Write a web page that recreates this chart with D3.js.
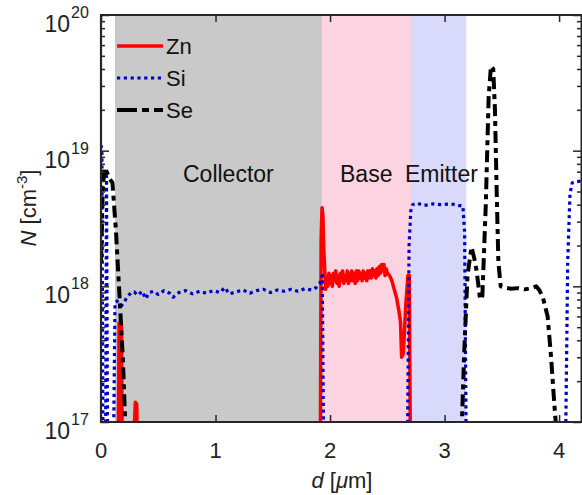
<!DOCTYPE html>
<html>
<head>
<meta charset="utf-8">
<script src="https://cdn.jsdelivr.net/npm/d3@7"></script>
<style>
  html, body { margin: 0; padding: 0; background: #fff; }
  svg { display: block; font-family: Arial, "Liberation Sans", Helvetica, sans-serif; }
</style>
</head>
<body>
<svg id="chart" width="582" height="495"></svg>
<script>
// Layer regions of the structure (depth in µm)
const regionNames = ["Collector", "Base", "Emitter"];
const regionStart = [0.122, 1.93, 2.707];
const regionEnd = [1.93, 2.707, 3.19];

// Zn profile (depth µm, concentration cm^-3)
const znDepth = [0.15, 0.158, 0.163, 0.178, 0.186, 0.28, 0.295, 0.3, 0.312, 0.32,
  1.915, 1.922, 1.93, 1.938, 1.946, 1.955, 1.962, 1.97, 1.98, 1.99, 2.0, 2.01, 2.02, 2.03,
  2.04, 2.05, 2.06, 2.07, 2.08, 2.09, 2.1, 2.11, 2.12, 2.13, 2.14, 2.15, 2.16, 2.17, 2.18,
  2.19, 2.2, 2.21, 2.22, 2.23, 2.24, 2.25, 2.26, 2.27, 2.28, 2.29, 2.3, 2.31, 2.32, 2.33,
  2.34, 2.35, 2.36, 2.37, 2.38, 2.39, 2.4, 2.41, 2.42, 2.43, 2.44, 2.45, 2.46, 2.47, 2.48,
  2.49, 2.5, 2.52, 2.54, 2.56, 2.58, 2.6, 2.615, 2.625, 2.64, 2.66, 2.68, 2.692, 2.702];
const znConc = [5e16, 5.4e17, 5.4e17, 5.2e17, 5e16, 5e16, 1.1e17, 1.4e17, 1.35e17, 5e16,
  5e16, 2.2e18, 3.8e18, 3.3e18, 1.8e18, 1.25e18, 9.5e17, 1.15e18, 1.0e18, 1.25e18, 1.05e18,
  1.2e18, 1.0e18, 1.25e18, 1.1e18, 1.3e18, 1.05e18, 1.2e18, 1.0e18, 1.25e18, 1.1e18,
  1.3e18, 1.05e18, 1.2e18, 1.1e18, 1.3e18, 1.05e18, 1.25e18, 1.1e18, 1.3e18, 1.1e18,
  1.25e18, 1.05e18, 1.3e18, 1.1e18, 1.3e18, 1.15e18, 1.25e18, 1.1e18, 1.3e18, 1.15e18,
  1.25e18, 1.1e18, 1.3e18, 1.15e18, 1.3e18, 1.15e18, 1.35e18, 1.2e18, 1.3e18, 1.15e18,
  1.35e18, 1.2e18, 1.4e18, 1.25e18, 1.45e18, 1.3e18, 1.45e18, 1.2e18, 1.35e18, 1.25e18,
  1.2e18, 1.1e18, 9.5e17, 8.3e17, 6.7e17, 5.5e17, 3.0e17, 3.2e17, 7e17, 1.2e18, 1.2e18,
  5e16];

// Si profile
const siDepth = [0, 0.008, 0.018, 0.04, 0.048, 0.058, 0.108, 0.122, 0.14, 0.16, 0.18,
  0.2, 0.23, 0.26, 0.29, 0.32, 0.36, 0.39, 0.42, 0.46, 0.5, 0.55, 0.6, 0.63, 0.68, 0.74,
  0.8, 0.86, 0.92, 0.98, 1.04, 1.08, 1.12, 1.18, 1.24, 1.3, 1.36, 1.42, 1.48, 1.54, 1.6,
  1.66, 1.72, 1.78, 1.84, 1.88, 1.91, 1.932, 1.945,
  2.675, 2.69, 2.705, 2.72, 2.76, 2.82, 2.9, 2.98, 3.06, 3.12, 3.16, 3.175, 3.19,
  4.055, 4.075, 4.095, 4.115, 4.15, 4.2];
const siConc = [1.1e19, 9.5e18, 5e16, 5e16, 6.5e18, 5e16, 5e16, 7.4e17, 7.8e17, 7.4e17,
  7.2e17, 7.6e17, 8.4e17, 8.9e17, 9.1e17, 8.6e17, 9.2e17, 8.1e17, 9.0e17, 9.2e17, 8.7e17,
  9.3e17, 8.9e17, 8.3e17, 9.0e17, 9.3e17, 8.8e17, 9.2e17, 8.9e17, 9.3e17, 9.0e17, 9.8e17,
  8.8e17, 9.1e17, 9.4e17, 8.9e17, 9.3e17, 9.5e17, 9.0e17, 9.4e17, 9.2e17, 9.5e17, 9.2e17,
  9.6e17, 9.4e17, 9.8e17, 1.05e18, 1.2e18, 5e16,
  5e16, 2.0e18, 3.6e18, 4.0e18, 4.1e18, 3.95e18, 4.05e18, 4.0e18, 4.05e18, 3.95e18,
  3.9e18, 2.5e18, 5e16,
  5e16, 1.5e18, 4.8e18, 5.8e18, 5.9e18, 6.0e18];

// Se profile
const seDepth = [0, 0.015, 0.03, 0.05, 0.075, 0.1, 0.13, 0.16, 0.19, 0.225,
  3.14, 3.17, 3.2, 3.235, 3.26, 3.28, 3.31, 3.33, 3.36, 3.385, 3.405, 3.425, 3.44,
  3.455, 3.47, 3.49, 3.52, 3.58, 3.64, 3.7, 3.76, 3.8, 3.83, 3.86, 3.9, 3.93, 3.96,
  3.985, 4.0];
const seConc = [1.5e18, 5e18, 7.5e18, 7e18, 6.2e18, 5.8e18, 2.6e18, 9e17, 3e17, 5e16,
  5e16, 3e17, 1.2e18, 1.95e18, 1.6e18, 1.3e18, 8e17, 8.5e17, 4e18, 2.5e19, 4.2e19,
  4.0e19, 2e19, 5e18, 1.5e18, 1.0e18, 9.8e17, 9.6e17, 9.7e17, 9.5e17, 9.7e17, 1.0e18,
  9.3e17, 8.2e17, 6e17, 3e17, 1.3e17, 7e16, 5e16];

const xTicks = [0, 1, 2, 3, 4];
const yExponents = [17, 18, 19, 20];

const margin = { left: 101, top: 15, right: 0, bottom: 73 };
const W = 582, H = 495;
const svg = d3.select("#chart");

const x = d3.scaleLinear().domain([0, 4.2]).range([margin.left, W - margin.right]);
const y = d3.scaleLog().domain([1e17, 1e20]).range([H - margin.bottom, margin.top]);
const x0 = x.range()[0], x1 = x.range()[1], y0 = y.range()[0], y1 = y.range()[1];

const axisColor = "#262626";

// Region shading
const regionFill = ["#c9c9c9", "#fcd4e1", "#d9d9fb"];
svg.append("g").selectAll("rect")
  .data(regionNames)
  .join("rect")
  .attr("x", (d, i) => x(regionStart[i]))
  .attr("width", (d, i) => x(regionEnd[i]) - x(regionStart[i]))
  .attr("y", y1)
  .attr("height", y0 - y1)
  .attr("fill", (d, i) => regionFill[i]);

// Region labels
const labelX = [183, 340, 405];
svg.append("g").selectAll("text")
  .data(regionNames)
  .join("text")
  .attr("x", (d, i) => labelX[i])
  .attr("y", 182)
  .attr("font-size", 23)
  .attr("fill", "#111")
  .text(d => d);

// Data curves
svg.append("clipPath").attr("id", "plotClip")
  .append("rect").attr("x", x0).attr("y", y1).attr("width", x1 - x0).attr("height", y0 - y1);

const line = d3.line().x(d => x(d[0])).y(d => y(d[1]));
const curves = svg.append("g").attr("clip-path", "url(#plotClip)");

const series = [
  { name: "Zn", depth: znDepth, conc: znConc, color: "#ff0000", width: 3.5, dash: null },
  { name: "Si", depth: siDepth, conc: siConc, color: "#0000c8", width: 3.2, dash: "3.2,3.6" },
  { name: "Se", depth: seDepth, conc: seConc, color: "#000000", width: 4, dash: "12,5,5,5" }
];

series.forEach(s => {
  curves.append("path")
    .datum(s.depth.map((d, i) => [d, s.conc[i]]))
    .attr("d", line)
    .attr("fill", "none")
    .attr("stroke", s.color)
    .attr("stroke-width", s.width)
    .attr("stroke-dasharray", s.dash)
    .attr("stroke-linejoin", "round")
    .attr("stroke-linecap", "butt");
});

// Legend
const legend = svg.append("g");
series.forEach((s, i) => {
  const ly = 46 + i * 32;
  legend.append("line")
    .attr("x1", 117).attr("x2", 163).attr("y1", ly).attr("y2", ly)
    .attr("stroke", s.color).attr("stroke-width", s.width)
    .attr("stroke-dasharray", s.name === "Se" ? "20,5,7,5,12" : s.dash);
  legend.append("text")
    .attr("x", 166).attr("y", ly + 8)
    .attr("font-size", 22).attr("fill", "#111")
    .text(s.name);
});

// Axes: ticks pointing inward on all four sides
const minorVals = [];
for (let e = 17; e < 20; e++) for (let m = 2; m <= 9; m++) minorVals.push(m * Math.pow(10, e));
const majorVals = yExponents.map(e => Math.pow(10, e));

function styleAxis(g) {
  g.select(".domain").remove();
  g.selectAll("line").attr("stroke", axisColor).attr("stroke-width", 1.5);
  g.selectAll("text").remove();
}

svg.append("g").attr("transform", `translate(${x0},0)`)
  .call(d3.axisRight(y).tickValues(majorVals).tickSize(8).tickFormat(""))
  .call(styleAxis);
svg.append("g").attr("transform", `translate(${x0},0)`)
  .call(d3.axisRight(y).tickValues(minorVals).tickSize(4).tickFormat(""))
  .call(styleAxis);
svg.append("g").attr("transform", `translate(${x1 - 1},0)`)
  .call(d3.axisLeft(y).tickValues(majorVals).tickSize(8).tickFormat(""))
  .call(styleAxis);
svg.append("g").attr("transform", `translate(${x1 - 1},0)`)
  .call(d3.axisLeft(y).tickValues(minorVals).tickSize(4).tickFormat(""))
  .call(styleAxis);
svg.append("g").attr("transform", `translate(0,${y0})`)
  .call(d3.axisTop(x).tickValues(xTicks).tickSize(7).tickFormat(""))
  .call(styleAxis);
svg.append("g").attr("transform", `translate(0,${y1})`)
  .call(d3.axisBottom(x).tickValues(xTicks).tickSize(7).tickFormat(""))
  .call(styleAxis);

// Frame
svg.append("path")
  .attr("d", `M${x1},${y1} H${x0} V${y0} H${x1}`)
  .attr("fill", "none").attr("stroke", axisColor).attr("stroke-width", 2.2);
svg.append("line")
  .attr("x1", x1 - 0.5).attr("x2", x1 - 0.5).attr("y1", y1).attr("y2", y0)
  .attr("stroke", axisColor).attr("stroke-width", 2);

// Tick labels
svg.append("g").selectAll("text")
  .data(xTicks)
  .join("text")
  .attr("x", d => x(d))
  .attr("y", 458)
  .attr("text-anchor", "middle")
  .attr("font-size", 22)
  .attr("fill", "#222")
  .text(d => d);

const yl = svg.append("g");
yExponents.forEach(e => {
  const ty = y(Math.pow(10, e));
  yl.append("text").attr("x", 70).attr("y", ty + 17)
    .attr("text-anchor", "end").attr("font-size", 23).attr("fill", "#222").text("10");
  yl.append("text").attr("x", 71).attr("y", ty + 3)
    .attr("text-anchor", "start").attr("font-size", 16).attr("fill", "#222").text(e);
});

// Axis titles
const xt = svg.append("text").attr("x", 342).attr("y", 488)
  .attr("text-anchor", "middle").attr("font-size", 22).attr("fill", "#222");
xt.append("tspan").attr("font-style", "italic").text("d");
xt.append("tspan").text(" [");
xt.append("tspan").attr("font-style", "italic").text("\u03bc");
xt.append("tspan").text("m]");

const ytG = svg.append("g").attr("transform", "translate(36,208) rotate(-90)");
const yt = ytG.append("text").attr("text-anchor", "middle").attr("font-size", 22).attr("fill", "#222");
yt.append("tspan").attr("font-style", "italic").text("N");
yt.append("tspan").text(" [cm");
yt.append("tspan").attr("font-size", 15).attr("dy", -9).text("-3");
yt.append("tspan").attr("dy", 9).text("]");
</script>
</body>
</html>
